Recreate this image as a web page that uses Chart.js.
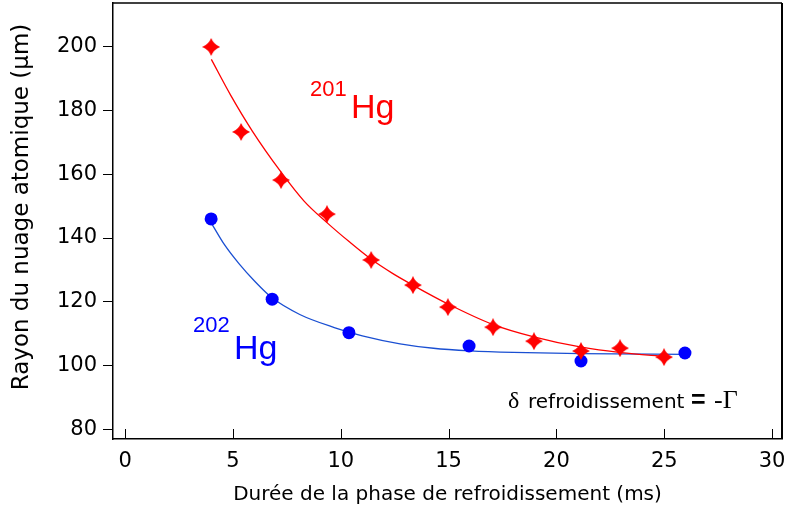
<!DOCTYPE html>
<html>
<head>
<meta charset="utf-8">
<script src="https://cdn.jsdelivr.net/npm/chart.js@4/dist/chart.umd.min.js"></script>
<style>
  html, body { margin: 0; padding: 0; background: #fff; }
</style>
</head>
<body>
<canvas id="chart" width="791" height="513"></canvas>
<script>
"use strict";

// measured points, 201Hg (red stars)
let hg201X = [3.99, 5.38, 7.23, 9.36, 11.41, 13.35, 14.97, 17.06, 18.96, 21.14, 22.95, 24.99];
let hg201Y = [200.0, 173.3, 158.2, 147.5, 133.1, 125.2, 118.3, 112.0, 107.6, 104.5, 105.4, 102.6];

// measured points, 202Hg (blue dots)
let hg202X = [3.99, 6.82, 10.38, 15.95, 21.14, 25.96];
let hg202Y = [146.0, 120.8, 110.3, 106.1, 101.4, 103.9];

// fitted curves
let fit201X = [4.0, 4.9, 5.9, 7.2, 8.3, 9.4, 10.4, 11.4, 12.4, 13.4, 15.0, 17.0, 19.0, 21.1, 23.0, 25.1];
let fit201Y = [196.1, 184.8, 173.6, 161.0, 151.6, 144.6, 138.8, 133.4, 128.9, 125.0, 119.2, 113.0, 108.9, 105.8, 104.0, 102.8];
let fit202X = [4.0, 4.6, 5.3, 6.0, 6.8, 8.1, 9.7, 11.0, 12.75, 14.3, 16.0, 18.0, 21.1, 26.0];
let fit202Y = [144.7, 138.0, 131.8, 126.5, 121.3, 116.0, 111.9, 109.3, 106.8, 105.4, 104.6, 104.1, 103.7, 103.5];

let xTickValues = [0, 5, 10, 15, 20, 25, 30];
let yTickValues = [80, 100, 120, 140, 160, 180, 200];

function pts(xs, ys) {
  return xs.map((x, i) => ({ x: x, y: ys[i] }));
}

function makeStar(size, color) {
  let c = document.createElement("canvas");
  c.width = size;
  c.height = size;
  let g = c.getContext("2d");
  let h = size / 2, k = size * 0.14;
  g.fillStyle = color;
  g.beginPath();
  g.moveTo(h, 0);
  g.quadraticCurveTo(h + k, h - k, size, h);
  g.quadraticCurveTo(h + k, h + k, h, size);
  g.quadraticCurveTo(h - k, h + k, 0, h);
  g.quadraticCurveTo(h - k, h - k, h, 0);
  g.fill();
  return c;
}

let starImg = makeStar(18, "#ff0000");

let framePlugin = {
  id: "frame",
  afterDraw(chart) {
    let ctx = chart.ctx;
    let a = chart.chartArea;
    let xs = chart.scales.x;
    ctx.save();
    ctx.strokeStyle = "#000";
    ctx.lineWidth = 1.5;
    ctx.beginPath();
    ctx.moveTo(a.left, a.top);
    ctx.lineTo(a.right, a.top);
    ctx.stroke();
    ctx.lineWidth = 2;
    ctx.beginPath();
    ctx.moveTo(a.right, a.top);
    ctx.lineTo(a.right, a.bottom);
    ctx.stroke();
    // x ticks point inward
    ctx.lineWidth = 1;
    for (let v of xTickValues) {
      let px = Math.round(xs.getPixelForValue(v)) + 0.5;
      ctx.beginPath();
      ctx.moveTo(px, a.bottom);
      ctx.lineTo(px, a.bottom - 10);
      ctx.stroke();
    }
    // y title
    ctx.fillStyle = "#000";
    ctx.font = "23px 'DejaVu Sans'";
    ctx.textAlign = "center";
    ctx.textBaseline = "middle";
    ctx.translate(22, 207);
    ctx.rotate(-Math.PI / 2);
    ctx.fillText("Rayon du nuage atomique (\u00b5m)", 0, 0);
    ctx.restore();

    // annotations
    ctx.save();
    ctx.textBaseline = "alphabetic";
    ctx.textAlign = "left";
    ctx.fillStyle = "#ff0000";
    ctx.font = "22px 'Liberation Sans'";
    ctx.fillText("201", 310, 96);
    ctx.font = "34px 'Liberation Sans'";
    ctx.fillText("Hg", 351, 118);
    ctx.fillStyle = "#0000ff";
    ctx.font = "22px 'Liberation Sans'";
    ctx.fillText("202", 193, 332);
    ctx.font = "34px 'Liberation Sans'";
    ctx.fillText("Hg", 234, 359);
    ctx.fillStyle = "#000";
    ctx.font = "24px 'Liberation Serif'";
    ctx.fillText("\u03b4", 508, 408);
    ctx.font = "20px 'DejaVu Sans'";
    ctx.fillText("refroidissement", 528, 408);
    ctx.font = "bold 25px 'Liberation Sans'";
    ctx.fillText("=", 691, 408);
    ctx.font = "26px 'Liberation Serif'";
    ctx.fillText("-\u0393", 714, 408);
    ctx.restore();
  }
};

let ctx = document.getElementById("chart");
let chart = new Chart(ctx, {
  type: "scatter",
  data: {
    datasets: [
      {
        label: "201Hg",
        data: pts(hg201X, hg201Y),
        pointStyle: starImg,
        pointRadius: 9,
        borderWidth: 0,
        backgroundColor: "#ff0000"
      },
      {
        label: "202Hg",
        data: pts(hg202X, hg202Y),
        pointStyle: "circle",
        pointRadius: 6.5,
        borderWidth: 0,
        backgroundColor: "#0000ff",
        borderColor: "#0000ff"
      },
      {
        label: "fit 201",
        data: pts(fit201X, fit201Y),
        showLine: true,
        pointRadius: 0,
        borderColor: "#ff0000",
        borderWidth: 1.3,
        cubicInterpolationMode: "monotone"
      },
      {
        label: "fit 202",
        data: pts(fit202X, fit202Y),
        showLine: true,
        pointRadius: 0,
        borderColor: "#1a4fd2",
        borderWidth: 1.3,
        cubicInterpolationMode: "monotone"
      }
    ]
  },
  options: {
    responsive: false,
    animation: false,
    devicePixelRatio: 1,
    layout: { autoPadding: false, padding: { top: 3, right: 9, left: 0, bottom: 0 } },
    plugins: {
      legend: { display: false },
      tooltip: { enabled: false }
    },
    scales: {
      x: {
        type: "linear",
        min: -0.56,
        max: 30.46,
        afterFit(s) {
          s.height = 74;
          s.paddingLeft = 0;
          s.paddingRight = 0;
        },
        afterBuildTicks(s) { s.ticks = xTickValues.map(v => ({ value: v })); },
        grid: { drawOnChartArea: false, drawTicks: false },
        border: { display: true, color: "#000", width: 1.5 },
        ticks: {
          padding: 10,
          color: "#000",
          font: { family: "DejaVu Sans", size: 21 },
          maxRotation: 0
        },
        title: {
          display: true,
          text: "Durée de la phase de refroidissement (ms)",
          color: "#000",
          font: { family: "DejaVu Sans", size: 20 },
          padding: { top: 0, bottom: 6 }
        }
      },
      y: {
        type: "linear",
        min: 76.9,
        max: 213.8,
        afterFit(s) {
          s.width = 113;
          s.paddingTop = 0;
          s.paddingBottom = 0;
        },
        afterBuildTicks(s) { s.ticks = yTickValues.map(v => ({ value: v })); },
        grid: { drawOnChartArea: false, drawTicks: true, tickLength: 10, tickColor: "#000", tickWidth: 1 },
        border: { display: true, color: "#000", width: 1.5 },
        ticks: {
          padding: 6,
          color: "#000",
          font: { family: "DejaVu Sans", size: 21 }
        }
      }
    }
  },
  plugins: [framePlugin]
});
</script>
</body>
</html>
